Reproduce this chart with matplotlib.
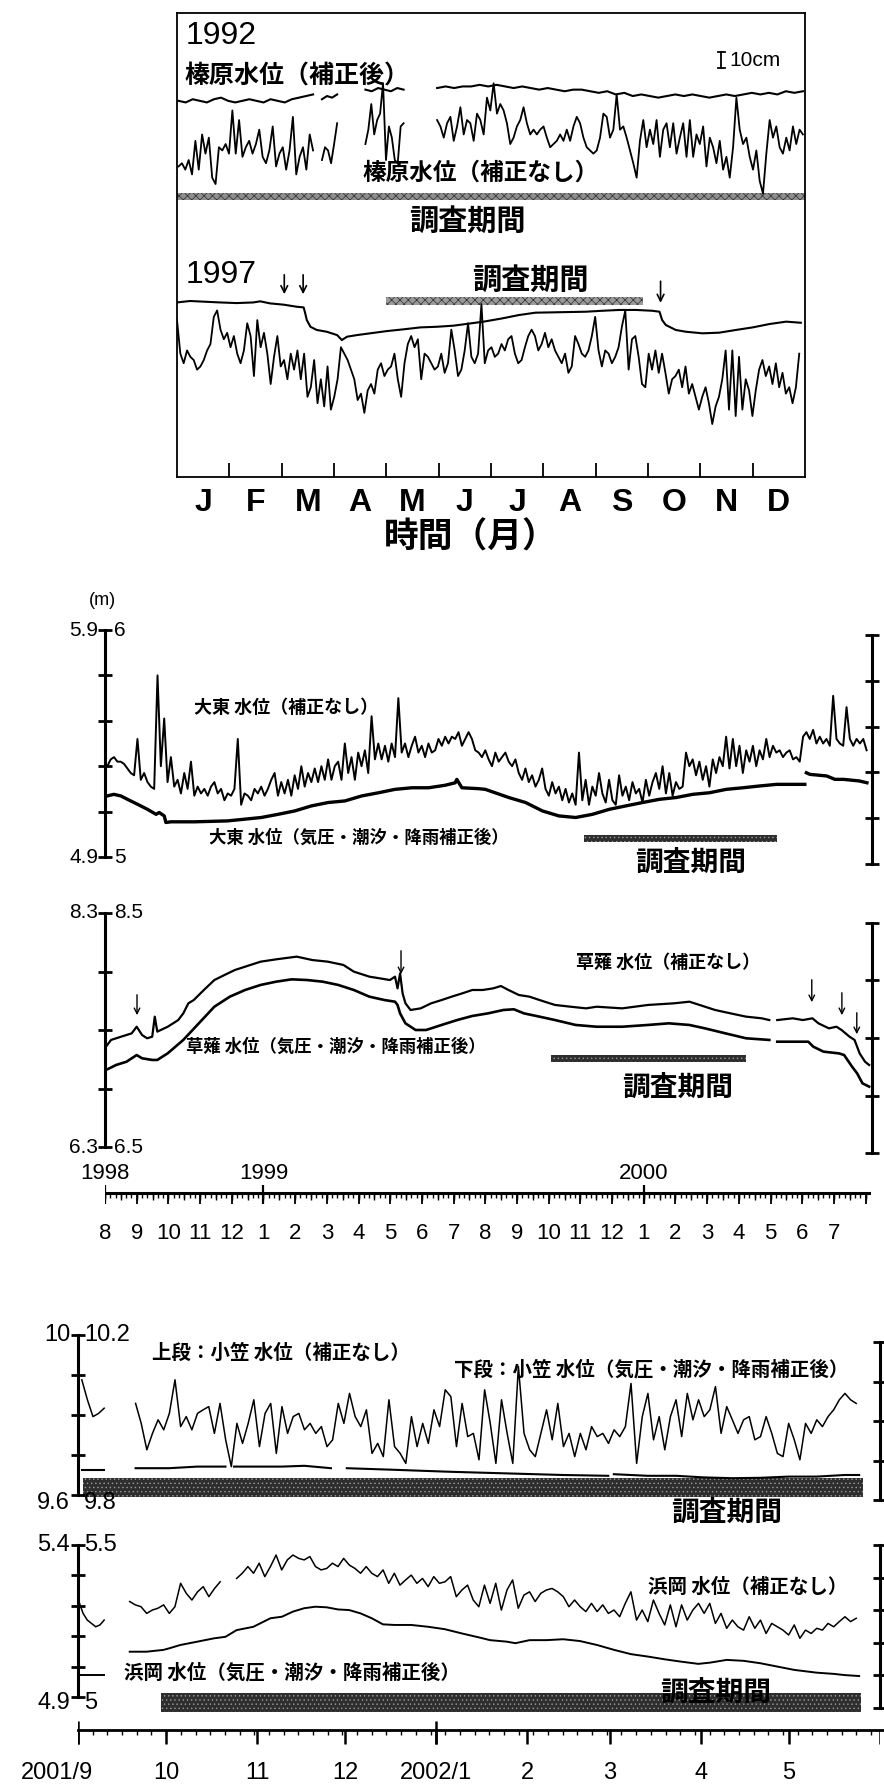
import numpy as np
import matplotlib.pyplot as plt
from matplotlib.patches import Rectangle

plt.rcParams['hatch.linewidth'] = 0.5
JP = ['Noto Sans CJK JP', 'DejaVu Sans']
LAT = ['Liberation Sans', 'DejaVu Sans']
NAR = ['Liberation Sans Narrow', 'Liberation Sans', 'DejaVu Sans']

# ---------------- 榛原 water level (cm), x = month of year ----------------
h92_spans = [(0.03, 2.60), (2.77, 3.06), (3.60, 4.33), (4.97, 11.96)]
h92_corr = [
    [237, 236, 238, 237, 236, 238, 239, 237, 236, 237, 238, 237, 236, 238, 237, 236, 238, 239, 240, 241],
    [238, 240, 239, 241],
    [244, 243, 245, 244, 243, 245, 244],
    [245, 246, 245, 246, 246, 247, 246, 247, 246, 245, 246, 245, 244, 245, 244, 243, 244, 244, 243, 242,
     243, 241, 242, 240, 241, 240, 239, 240, 241, 240, 241, 240, 239, 240, 241, 240, 241, 242, 241, 242,
     241, 243, 242, 243],
]
h92_raw = [
    [196, 198, 194, 200, 191, 212, 194, 216, 204, 214, 189, 185, 208, 206, 210, 204, 231, 204, 225, 202,
     208, 212, 204, 210, 219, 202, 198, 206, 221, 196, 204, 208, 194, 206, 227, 191, 202, 208, 194, 216, 206],
    [200, 208, 206, 198, 210, 223],
    [210, 219, 235, 216, 225, 229, 248, 200, 221, 214, 200, 198, 221, 223],
    [225, 221, 214, 223, 227, 212, 221, 233, 216, 225, 223, 212, 229, 225, 216, 239,
     231, 248, 229, 235, 231, 223, 210, 214, 221, 225,
     233, 223, 216, 219, 216, 219, 221, 214, 208, 210,
     212, 216, 212, 219, 212, 221, 227, 223, 214, 208,
     206, 204, 206, 214, 229, 227, 214, 219, 241, 219,
     221, 214, 206, 198, 189, 212, 225, 208, 219, 210,
     225, 202, 219, 223, 208, 223, 204, 214, 223, 202,
     225, 202, 216, 210, 221, 196, 214, 208, 198, 212,
     194, 202, 189, 208, 239, 219, 210, 214, 202, 194,
     206, 187, 179, 204, 225, 214, 221, 208, 204, 214,
     206, 221, 210, 219, 216],
]

h97_raw = [
    100, 79, 73, 81, 77, 75, 69, 71, 75, 81, 85, 102, 106, 94, 88, 92, 83, 90, 79, 73,
    81, 98, 90, 65, 100, 83, 92, 79, 60, 77, 90, 71, 75, 63, 79, 69, 81, 63, 79, 52,
    58, 75, 48, 63, 46, 71, 44, 52, 63, 83, 79, 75, 69, 63, 50, 54, 42, 56, 60, 54,
    69, 73, 65, 69, 71, 79, 63, 52, 73, 85, 90, 83, 88, 63, 79, 77, 73, 69, 71, 79,
    67, 73, 94, 81, 65, 69, 81, 98, 77, 73, 79, 110,
    73, 81, 83, 77, 79, 85, 81, 88, 90, 79, 73, 75, 83, 90, 94, 90, 81, 85, 92, 83,
    88, 81, 77, 73, 79, 67, 71, 90, 85, 79, 77, 81, 90, 102, 81, 71, 81, 79, 73, 77,
    83, 96, 106, 69, 88, 90, 77, 60, 58, 79, 69, 81, 67, 79, 67, 54, 63, 65, 69, 58,
    71, 54, 60, 52, 44, 52, 58, 48, 35, 46, 52, 63, 81, 44, 81, 40, 77, 44, 63, 56,
    40, 56, 69, 75, 65, 71, 60, 73, 58, 67, 54, 58, 48, 58, 79,
]
h97_corr_month = [0, 0.25, 0.5, 0.82, 1.14, 1.46, 1.59, 1.78, 2.04, 2.29, 2.42, 2.45, 2.48, 2.55, 2.67,
                  2.86, 3.06, 3.15, 3.25, 3.44, 3.69, 4.01, 4.33, 4.65, 4.97, 5.29, 5.61, 5.86, 6.21,
                  6.53, 6.85, 7.17, 7.49, 7.81, 8.13, 8.45, 8.77, 9.08, 9.22, 9.27, 9.34, 9.53, 9.72,
                  10.04, 10.36, 10.68, 11.0, 11.32, 11.64, 11.92]
h97_corr = [111.0, 111.9, 111.5, 111.0, 110.6, 111.0, 111.7, 110.4, 109.6, 108.3, 107.9, 104.2, 100.0,
            95.8, 93.8, 92.7, 90.6, 87.5, 89.6, 90.6, 91.7, 93.1, 94.2, 95.4, 95.8, 96.5, 97.9, 99.0,
            101.0, 103.1, 104.6, 104.8, 105.0, 105.2, 105.8, 106.3, 106.3, 105.8, 105.2, 100.0, 96.9,
            93.8, 92.7, 91.7, 92.1, 93.8, 95.4, 97.5, 99.0, 98.3]
month_letters = ['J', 'F', 'M', 'A', 'M', 'J', 'J', 'A', 'S', 'O', 'N', 'D']

# ---------------- 大東 / 草薙 (m), x = months from 1998/8 ----------------
daito_raw = [
    5.40, 5.43, 5.44, 5.42, 5.42, 5.41, 5.39, 5.37, 5.36, 5.52,
    5.34, 5.37, 5.33, 5.31, 5.30, 5.80, 5.40, 5.61, 5.33, 5.44,
    5.31, 5.34, 5.28, 5.37, 5.30, 5.42, 5.27, 5.31, 5.28, 5.30,
    5.27, 5.31, 5.33, 5.28, 5.30, 5.25, 5.28, 5.27, 5.30, 5.52,
    5.23, 5.28, 5.27, 5.25, 5.30, 5.28, 5.31, 5.27, 5.30, 5.34,
    5.37, 5.27, 5.33, 5.28, 5.34, 5.27, 5.36, 5.30, 5.40, 5.31,
    5.37, 5.33, 5.39, 5.33, 5.40, 5.34, 5.43, 5.34, 5.40, 5.42,
    5.34, 5.50, 5.37, 5.44, 5.34, 5.46, 5.40, 5.47, 5.37, 5.62,
    5.43, 5.50, 5.43, 5.49, 5.42, 5.50, 5.44, 5.70, 5.46, 5.50,
    5.44, 5.49, 5.53, 5.46, 5.49, 5.44, 5.50, 5.46, 5.47, 5.52,
    5.49, 5.53, 5.50, 5.53, 5.52, 5.55, 5.49, 5.52, 5.55, 5.52,
    5.47,
    5.46, 5.44, 5.47, 5.43, 5.40, 5.46, 5.42, 5.44, 5.46, 5.42,
    5.40, 5.43, 5.37, 5.34, 5.39, 5.33, 5.36, 5.31, 5.34, 5.39,
    5.30, 5.27, 5.33, 5.28, 5.31, 5.25, 5.30, 5.24, 5.28, 5.23,
    5.46, 5.25, 5.34, 5.23, 5.31, 5.27, 5.37, 5.28, 5.24, 5.34,
    5.25, 5.23, 5.36, 5.27, 5.31, 5.25, 5.33, 5.28, 5.30, 5.24,
    5.34, 5.27, 5.33, 5.37, 5.30, 5.40, 5.28, 5.37, 5.27, 5.33,
    5.30, 5.31, 5.46, 5.40, 5.43, 5.36, 5.42, 5.34, 5.40, 5.31,
    5.43, 5.37, 5.44, 5.40, 5.53, 5.39, 5.52, 5.40, 5.49, 5.37,
    5.47, 5.42, 5.49, 5.40, 5.47, 5.43, 5.52, 5.44, 5.49, 5.46,
    5.47, 5.44, 5.46, 5.47, 5.43, 5.44, 5.42, 5.53, 5.55, 5.52,
    5.56, 5.50, 5.53, 5.50, 5.52, 5.49, 5.71, 5.52, 5.50, 5.49,
    5.66, 5.52, 5.49, 5.52, 5.50, 5.52, 5.47,
]
daito_raw_span = (0.074, 24.03)
daito_corr_month = [
    [0.07, 0.28, 0.5, 0.71, 1.03, 1.34, 1.61, 1.71, 1.87, 1.92, 2.08, 2.82, 3.87, 4.93, 5.46, 5.99,
     6.51, 7.04, 7.57, 8.1, 8.63, 9.15, 9.68, 10.21, 10.73, 11.05, 11.1, 11.26, 11.79, 12.0, 12.74,
     13.27, 13.8, 14.32, 14.85, 15.38, 15.91, 16.43, 16.96, 17.49, 18.02, 18.54, 19.07, 19.6, 20.13,
     20.66, 21.19, 21.71, 22.08],
    [22.13, 22.24, 22.77, 23.03, 23.3, 23.8, 24.04],
]
daito_corr = [
    [5.269, 5.276, 5.269, 5.254, 5.232, 5.210, 5.188, 5.196, 5.181, 5.152, 5.155, 5.155, 5.159, 5.174,
     5.188, 5.203, 5.225, 5.240, 5.247, 5.269, 5.283, 5.298, 5.305, 5.305, 5.316, 5.327, 5.342, 5.305,
     5.301, 5.298, 5.262, 5.240, 5.203, 5.181, 5.174, 5.188, 5.210, 5.225, 5.240, 5.254, 5.262, 5.276,
     5.283, 5.298, 5.305, 5.313, 5.320, 5.320, 5.320],
    [5.371, 5.364, 5.357, 5.342, 5.342, 5.335, 5.327],
]

kusa_raw_month = [
    [0.03, 0.19, 0.51, 0.84, 1.00, 1.17, 1.33, 1.49, 1.57, 1.65, 1.98, 2.31, 2.47, 2.63, 2.80, 3.12,
     3.45, 3.77, 4.10, 4.59, 4.91, 5.40, 6.05, 6.54, 7.03, 7.52, 7.85, 8.34, 8.66, 8.99, 9.15, 9.23,
     9.31, 9.39, 9.48, 9.64, 9.96, 10.29, 10.62, 10.94, 11.27, 11.59, 11.92, 12.25, 12.49, 12.73,
     13.06, 13.39, 13.87, 14.20, 14.69, 15.18, 15.51, 16.32, 17.13, 17.95, 18.44, 18.76, 19.25,
     19.74, 20.23, 20.72, 20.96],
    [21.21, 21.70, 22.02, 22.32, 22.51, 22.84, 23.08, 23.24, 23.49, 23.65, 23.81, 23.98, 24.11],
]
kusa_raw = [
    [7.357, 7.415, 7.443, 7.471, 7.528, 7.457, 7.429, 7.443, 7.614, 7.486, 7.528, 7.585, 7.642, 7.728,
     7.756, 7.842, 7.927, 7.970, 8.013, 8.056, 8.084, 8.104, 8.127, 8.098, 8.084, 8.056, 7.999, 7.956,
     7.942, 7.927, 7.956, 7.856, 7.984, 7.813, 7.728, 7.671, 7.685, 7.728, 7.756, 7.785, 7.813, 7.842,
     7.842, 7.856, 7.876, 7.842, 7.799, 7.785, 7.742, 7.714, 7.699, 7.685, 7.699, 7.685, 7.714, 7.728,
     7.742, 7.714, 7.671, 7.642, 7.614, 7.600, 7.585],
    [7.585, 7.600, 7.585, 7.600, 7.557, 7.514, 7.528, 7.500, 7.443, 7.415, 7.300, 7.229, 7.201],
]
kusa_corr_month = [
    [0.03, 0.35, 0.68, 1.00, 1.17, 1.49, 1.65, 1.98, 2.47, 2.96, 3.45, 3.94, 4.42, 4.91, 5.40, 5.89,
     6.38, 6.87, 7.36, 7.85, 8.34, 8.82, 9.15, 9.23, 9.31, 9.48, 9.80, 10.13, 10.62, 11.11, 11.59,
     12.08, 12.57, 12.90, 13.22, 13.71, 14.20, 14.85, 15.51, 16.32, 17.13, 17.79, 18.44, 18.93,
     19.58, 20.23, 20.96],
    [21.21, 21.70, 22.19, 22.35, 22.67, 23.16, 23.32, 23.57, 23.73, 23.90, 24.11],
]
kusa_corr = [
    [7.158, 7.201, 7.229, 7.286, 7.258, 7.244, 7.244, 7.301, 7.415, 7.557, 7.699, 7.785, 7.842, 7.885,
     7.913, 7.933, 7.927, 7.913, 7.885, 7.842, 7.785, 7.756, 7.742, 7.714, 7.642, 7.557, 7.500, 7.500,
     7.543, 7.585, 7.620, 7.642, 7.671, 7.677, 7.642, 7.614, 7.585, 7.543, 7.528, 7.528, 7.543, 7.557,
     7.543, 7.514, 7.471, 7.429, 7.415],
    [7.400, 7.400, 7.400, 7.357, 7.315, 7.300, 7.286, 7.187, 7.130, 7.044, 7.016],
]
b_month_labels = ['8', '9', '10', '11', '12', '1', '2', '3', '4', '5', '6', '7',
                  '8', '9', '10', '11', '12', '1', '2', '3', '4', '5', '6', '7']

# ---------------- 小笠 / 浜岡 (m), x = days from 2001/9/1 ----------------
ogasa_raw_spans = [(1.3, 8.9), (19.6, 264.9)]
ogasa_raw = [
    [10.088, 10.038, 9.996, 10.004, 10.017],
    [10.029, 9.979, 9.913, 9.954, 9.988, 9.963, 10.004, 10.088, 9.971, 9.996,
     9.963, 10.004, 10.013, 10.021, 9.954, 10.029, 9.938, 9.871, 9.979, 9.929,
     9.979, 10.038, 9.921, 10.004, 10.029, 9.904, 10.021, 9.954, 9.996, 10.004,
     9.963, 9.979, 9.954, 9.971, 9.921, 9.938, 10.029, 9.979, 10.054, 9.996,
     9.971, 10.013, 9.904, 9.929, 9.896, 10.038, 9.921, 9.904, 9.879, 9.996,
     9.921, 9.979, 9.929, 10.013, 9.971, 10.063, 10.046, 9.921, 10.029, 9.946,
     9.954, 9.888, 10.063, 9.979, 9.879, 10.038, 9.954, 9.879, 10.121, 9.954,
     9.913, 9.896, 9.954, 10.013, 9.938, 10.029, 9.921, 9.954, 9.896, 9.954,
     9.913, 9.971, 9.946, 9.954, 9.929, 9.963, 9.946, 9.971, 10.079, 9.879,
     9.996, 10.054, 9.938, 9.996, 9.913, 9.996, 10.038, 9.946, 10.054, 9.988,
     10.038, 9.996, 10.013, 10.071, 9.954, 10.021, 9.988, 9.954, 9.988, 9.996,
     9.938, 9.946, 9.996, 9.954, 9.904, 9.896, 9.979, 9.938, 9.888, 9.979,
     9.954, 9.988, 9.971, 9.996, 10.013, 10.038, 10.054, 10.038, 10.029],
]
ogasa_corr_days = [
    [1.5, 8.9],
    [19.6, 31.0, 40.6, 50.2],
    [53.1, 69.4, 77.1, 86.1],
    [91.5, 107.7, 126.9, 146.0, 165.2, 180.5],
    [182.4, 193.9, 203.6, 213.1, 222.7, 232.3, 241.9, 251.4, 261.0, 265.9],
]
ogasa_corr = [
    [9.863, 9.863],
    [9.867, 9.867, 9.871, 9.871],
    [9.871, 9.871, 9.873, 9.867],
    [9.867, 9.863, 9.858, 9.854, 9.850, 9.848],
    [9.852, 9.848, 9.848, 9.844, 9.842, 9.843, 9.846, 9.846, 9.850, 9.850],
]
hama_raw_spans = [(0.3, 8.9), (17.6, 48.4), (54.0, 264.9)]
hama_raw = [
    [5.314, 5.275, 5.253, 5.242, 5.231, 5.237, 5.253],
    [5.314, 5.303, 5.297, 5.275, 5.286, 5.292, 5.303, 5.275, 5.297, 5.374, 5.341, 5.319, 5.346,
     5.363, 5.330, 5.357, 5.379],
    [5.390, 5.407, 5.429, 5.407, 5.440, 5.396, 5.429, 5.467, 5.418, 5.451,
     5.467, 5.456, 5.451, 5.462, 5.429, 5.418, 5.423, 5.440, 5.429, 5.456,
     5.434, 5.423, 5.407, 5.429, 5.407, 5.396, 5.418, 5.374, 5.407, 5.368,
     5.385, 5.401, 5.374, 5.390, 5.363, 5.396, 5.374, 5.379, 5.396, 5.330,
     5.352, 5.368, 5.319, 5.297, 5.368, 5.308, 5.374, 5.286, 5.352, 5.385,
     5.292, 5.335, 5.346, 5.314, 5.341, 5.352, 5.357, 5.346, 5.330, 5.297,
     5.319, 5.297, 5.281, 5.308, 5.281, 5.303, 5.275, 5.286, 5.264, 5.308,
     5.346, 5.253, 5.286, 5.248, 5.319, 5.275, 5.237, 5.303, 5.231, 5.303,
     5.253, 5.286, 5.308, 5.275, 5.308, 5.242, 5.275, 5.226, 5.253, 5.231,
     5.220, 5.264, 5.226, 5.253, 5.209, 5.242, 5.231, 5.220, 5.204, 5.237,
     5.193, 5.220, 5.209, 5.226, 5.220, 5.242, 5.231, 5.248, 5.264, 5.248, 5.259],
]
hama_corr_days = [
    [0.3, 8.9],
    [17.6, 23.3, 29.1, 31.0, 34.8, 40.6, 46.3, 50.2, 54.0, 59.7, 65.5, 69.4, 73.2, 77.0, 80.8, 84.7,
     88.5, 92.3, 96.2, 100.0, 103.8, 107.7, 113.4, 119.2, 124.9, 130.7, 136.5, 140.3, 146.0, 148.9,
     153.7, 159.4, 165.2, 170.9, 176.7, 182.5, 188.2, 194.0, 199.7, 205.5, 211.2, 215.1, 220.8, 226.6,
     232.3, 238.1, 243.9, 251.5, 257.3, 261.1, 265.9],
]
hama_corr = [
    [5.072, 5.072],
    [5.149, 5.149, 5.155, 5.160, 5.171, 5.182, 5.193, 5.198, 5.220, 5.231, 5.259, 5.264, 5.281, 5.292,
     5.297, 5.295, 5.288, 5.286, 5.275, 5.259, 5.239, 5.237, 5.237, 5.231, 5.223, 5.209, 5.196, 5.187,
     5.182, 5.177, 5.187, 5.187, 5.190, 5.184, 5.171, 5.155, 5.141, 5.133, 5.124, 5.116, 5.109, 5.113,
     5.122, 5.119, 5.111, 5.100, 5.089, 5.080, 5.076, 5.072, 5.069],
]
c_month_days = [0, 30, 61, 91, 122, 153, 181, 212, 242]
c_month_labels = ['2001/9', '10', '11', '12', '2002/1', '2', '3', '4', '5']

# ------------------------------------------------------------------
W, H = 884, 1792
fig = plt.figure(figsize=(W / 100, H / 100), dpi=100)


def box(x0, y0, x1, y1):
    return fig.add_axes([x0 / W, 1 - y1 / H, (x1 - x0) / W, (y1 - y0) / H])


def put(x, y, s, size, ha='left', va='center', family=LAT, weight='normal'):
    fig.text(x / W, 1 - y / H, s, fontsize=size, ha=ha, va=va, family=family, weight=weight)


def level_axis(rect, xlim, ylim, ticks):
    ax = box(*rect)
    ax.set_xlim(*xlim)
    ax.set_ylim(*ylim)
    ax.patch.set_visible(False)
    for s in ['right', 'top', 'bottom']:
        ax.spines[s].set_visible(False)
    ax.spines['left'].set_linewidth(2.2)
    ax.set_xticks([])
    ax.set_yticks(ticks)
    ax.tick_params(axis='y', direction='inout', length=10, width=2, labelleft=False)
    return ax


def side_axis(rect, n):
    ax = box(*rect)
    ax.patch.set_visible(False)
    for s in ['left', 'top', 'bottom']:
        ax.spines[s].set_visible(False)
    ax.spines['right'].set_linewidth(2.2)
    ax.set_ylim(0, 1)
    ax.set_xticks([])
    ax.yaxis.tick_right()
    ax.set_yticks(np.linspace(0, 1, n))
    ax.tick_params(axis='y', direction='inout', length=10, width=2, labelright=False)
    return ax


def bar(ax, x0, x1, y0, y1, face, hatch, hcolor):
    ax.add_patch(Rectangle((x0, y0), x1 - x0, y1 - y0, facecolor=face, hatch=hatch,
                           edgecolor=hcolor, lw=0, clip_on=False, zorder=1))


# ---------------- top panel: 榛原 ----------------
axA = box(177, 13, 805, 477)
axA.set_xlim(0, 12)
axA.set_ylim(1.9, 291.9)
for s in axA.spines.values():
    s.set_linewidth(1.3)
axA.set_yticks([])
axA.set_xticks(range(1, 12))
axA.tick_params(axis='x', direction='in', length=10, width=1.3, labelbottom=False)

for (a, b), yc, yr in zip(h92_spans, h92_corr, h92_raw):
    axA.plot(np.linspace(a, b, len(yc)), yc, color='k', lw=1.5, zorder=3)
    axA.plot(np.linspace(a, b, len(yr)), yr, color='k', lw=1.3, zorder=3)
axA.plot(np.linspace(0, 11.89, len(h97_raw)), h97_raw, color='k', lw=1.3, zorder=3)
axA.plot(h97_corr_month, h97_corr, color='k', lw=1.5, zorder=3)

bar(axA, 0, 12, 175.0, 179.4, '#8e8e8e', 'xxxx', '#303030')
bar(axA, 4.0, 8.91, 109.4, 114.4, '#9a9a9a', 'xxxx', '#303030')

# 10 cm scale
axA.plot([10.4, 10.4], [257.5, 267.5], color='k', lw=1.3)
axA.plot([10.33, 10.47], [257.5, 257.5], color='k', lw=1.3)
axA.plot([10.33, 10.47], [267.5, 267.5], color='k', lw=1.3)

for xm, y0, y1 in [(2.05, 130, 114.4), (2.41, 130, 114.4), (9.24, 126, 109)]:
    axA.annotate('', xy=(xm, y1), xytext=(xm, y0),
                 arrowprops=dict(arrowstyle='->', lw=1.2, color='k', mutation_scale=12))

put(186, 36, '1992', 23)
put(186, 275, '1997', 23)
put(729, 60, '10cm', 15)
put(184, 77, '榛原水位（補正後）', 18, family=JP, weight='bold')
put(362, 173, '榛原水位（補正なし）', 17, family=JP, weight='bold')
put(409, 221, '調査期間', 21, family=JP, weight='bold')
put(472, 280, '調査期間', 21, family=JP, weight='bold')
for i, s in enumerate(month_letters):
    put(177 + 52.33 * (i + 0.5), 503, s, 23, ha='center', weight='bold')
put(471, 537, '時間（月）', 25, ha='center', family=JP, weight='bold')

# ---------------- middle panel: 大東 / 草薙 ----------------
BX = (0, 24.2)
axD = level_axis((105, 630, 872, 857), BX, (5, 6), np.arange(5, 6.01, 0.2))
side_axis((105, 635, 872, 864), 6)
axD.plot(np.linspace(*daito_raw_span, len(daito_raw)), daito_raw, color='k', lw=1.4, zorder=3)
for xm, yv in zip(daito_corr_month, daito_corr):
    axD.plot(xm, yv, color='k', lw=2.4, zorder=3)
bar(axD, 15.11, 21.2, 5.066, 5.097, '#2e2e2e', '....', '#9a9a9a')

axK = level_axis((105, 913, 872, 1147), BX, (6.5, 8.5), np.arange(6.5, 8.51, 0.5))
side_axis((105, 923, 872, 1153), 5)
for xm, yv in zip(kusa_raw_month, kusa_raw):
    axK.plot(xm, yv, color='k', lw=1.6, zorder=3)
for xm, yv in zip(kusa_corr_month, kusa_corr):
    axK.plot(xm, yv, color='k', lw=1.9, zorder=3)
bar(axK, 14.07, 20.22, 7.226, 7.286, '#2e2e2e', '....', '#9a9a9a')
for xm, y0, y1 in [(1.01, 7.825, 7.603), (9.34, 8.201, 7.953), (22.3, 7.953, 7.714),
                   (23.25, 7.842, 7.603), (23.72, 7.671, 7.440)]:
    axK.annotate('', xy=(xm, y1), xytext=(xm, y0),
                 arrowprops=dict(arrowstyle='->', lw=1.0, color='k', mutation_scale=10))

put(102, 600, '(m)', 13, ha='center')
for y, outer, inner in [(630, '5.9', '6'), (857, '4.9', '5'), (913, '8.3', '8.5'), (1147, '6.3', '6.5')]:
    put(98, y, outer, 15, ha='right', family=NAR)
    put(114, y, inner, 15, family=NAR)
put(194, 707, '大東 水位（補正なし）', 13, family=JP, weight='bold')
put(209, 838, '大東 水位（気圧・潮汐・降雨補正後）', 12.5, family=JP, weight='bold')
put(635, 863, '調査期間', 20, family=JP, weight='bold')
put(576, 962, '草薙 水位（補正なし）', 13, family=JP, weight='bold')
put(186, 1047, '草薙 水位（気圧・潮汐・降雨補正後）', 12.5, family=JP, weight='bold')
put(622, 1088, '調査期間', 20, family=JP, weight='bold')

# time ruler 1998/8 - 2000/7
axRB = box(105, 1180, 872, 1215)
axRB.set_xlim(*BX)
axRB.set_ylim(35, 0)
axRB.axis('off')
axRB.plot([0, 24.1], [13, 13], color='k', lw=2.2)
axRB.vlines(np.arange(0, 24.1, 1 / 6), 13, 18, color='k', lw=1.0)
axRB.vlines(np.arange(0, 24.1, 0.5), 13, 20, color='k', lw=1.0)
axRB.vlines(np.arange(0, 25), 13, 24, color='k', lw=1.3)
axRB.vlines([0, 5, 17], 5, 24, color='k', lw=1.6)
for x, s in [(0, '1998'), (5, '1999'), (17, '2000')]:
    axRB.text(x, -7, s, fontsize=16, ha='center', va='center', family=NAR)
for k, s in enumerate(b_month_labels):
    axRB.text(k, 53, s, fontsize=16, ha='center', va='center', family=NAR, clip_on=False)

# ---------------- bottom panel: 小笠 / 浜岡 ----------------
CX = (0, 273)
axO = level_axis((78, 1335, 880, 1495), CX, (9.8, 10.2), np.arange(9.8, 10.21, 0.1))
side_axis((78, 1342, 880, 1500), 5)
for (a, b), yv in zip(ogasa_raw_spans, ogasa_raw):
    axO.plot(np.linspace(a, b, len(yv)), yv, color='k', lw=1.1, zorder=3)
for xd, yv in zip(ogasa_corr_days, ogasa_corr):
    axO.plot(xd, yv, color='k', lw=1.5, zorder=3)
bar(axO, 1.7, 267.3, 9.7950, 9.8425, '#2e2e2e', '....', '#9a9a9a')

axHm = level_axis((78, 1545, 880, 1697), CX, (5.0, 5.5), np.arange(5.0, 5.51, 0.1))
side_axis((78, 1545, 880, 1708), 6)
for (a, b), yv in zip(hama_raw_spans, hama_raw):
    axHm.plot(np.linspace(a, b, len(yv)), yv, color='k', lw=1.1, zorder=3)
for xd, yv in zip(hama_corr_days, hama_corr):
    axHm.plot(xd, yv, color='k', lw=1.4, zorder=3)
bar(axHm, 28.2, 266.7, 4.951, 5.013, '#2e2e2e', '....', '#9a9a9a')

for y, outer, inner in [(1335, '10', '10.2'), (1503, '9.6', '9.8'), (1545, '5.4', '5.5'), (1703, '4.9', '5')]:
    put(70, y, outer, 17, ha='right')
    put(84, y, inner, 17)
put(152, 1353, '上段：小笠 水位（補正なし）', 14, family=JP, weight='bold')
put(454, 1370, '下段：小笠 水位（気圧・潮汐・降雨補正後）', 14, family=JP, weight='bold')
put(671, 1513, '調査期間', 20, family=JP, weight='bold')
put(648, 1587, '浜岡 水位（補正なし）', 14, family=JP, weight='bold')
put(124, 1673, '浜岡 水位（気圧・潮汐・降雨補正後）', 14, family=JP, weight='bold')
put(660, 1693, '調査期間', 20, family=JP, weight='bold')

# time ruler 2001/9 - 2002/5
axRC = box(78, 1715, 880, 1750)
axRC.set_xlim(*CX)
axRC.set_ylim(35, 0)
axRC.axis('off')
axRC.plot([0, 276], [15, 15], color='k', lw=2.0, clip_on=False)
axRC.vlines(np.arange(0, 274, 5), 15, 20, color='k', lw=1.0)
axRC.vlines(c_month_days + [273], 15, 29, color='k', lw=1.8)
axRC.vlines([0, 122], 6, 29, color='k', lw=1.8)
for d, s in zip(c_month_days, c_month_labels):
    axRC.text(d - (7 if s == '2001/9' else 0), 58, s, fontsize=17, ha='center', va='center',
              family=LAT, clip_on=False)

fig.savefig('out.png', dpi=100, facecolor='white')
